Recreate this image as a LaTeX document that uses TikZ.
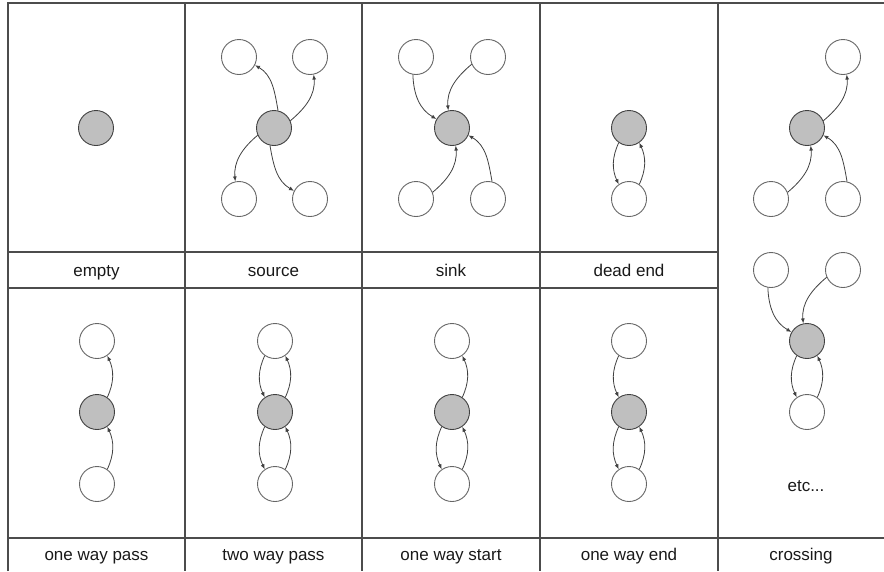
\documentclass[tikz,border=0pt]{standalone}
\usepackage{fontspec}
\setmainfont{Liberation Sans}
\usetikzlibrary{arrows.meta}
\begin{document}
\begin{tikzpicture}[x=1pt,y=1pt,
  gridline/.style={draw=black!70, line width=1.2pt},
  wnode/.style={circle, draw=black!60, fill=white, line width=0.9pt, minimum size=35pt, inner sep=0pt},
  gnode/.style={wnode, fill=black!25, draw=black!75},
  link/.style={draw=black!75, line width=0.8pt, -{Latex[length=5pt,width=4pt]}},
  lbl/.style={font=\fontsize{17}{20}\selectfont, text=black!90, inner sep=0pt, anchor=base}
]
\useasboundingbox (0,0) rectangle (884,-571);
% grid
\draw[gridline] (8,-571) -- (8,-3) -- (884,-3);
\foreach \xx in {185,362,540,718} \draw[gridline] (\xx,-3) -- (\xx,-571);
\draw[gridline] (8,-252) -- (718,-252);
\draw[gridline] (8,-288) -- (718,-288);
\draw[gridline] (8,-538) -- (884,-538);
% labels
\node[lbl] (l1) at (96.5,-276) {empty};
\node[lbl] (l2) at (273.5,-276) {source};
\node[lbl] (l3) at (451,-276) {sink};
\node[lbl] (l4) at (629,-276) {dead end};
\node[lbl] (l5) at (96.5,-560) {one way pass};
\node[lbl] (l6) at (273.5,-560) {two way pass};
\node[lbl] (l7) at (451,-560) {one way start};
\node[lbl] (l8) at (629,-560) {one way end};
\node[lbl] (l9) at (801,-560) {crossing};
\node[lbl] (l10) at (806,-491) {etc...};
% empty
\node[gnode] (eC) at (96,-128) {};
% source
\node[gnode] (sC) at (274,-128) {};
\node[wnode] (sTL) at (239,-57) {};
\node[wnode] (sTR) at (310,-57) {};
\node[wnode] (sBL) at (239,-199) {};
\node[wnode] (sBR) at (310,-199) {};
\draw[link] (sC.77) to[out=100,in=-30] (sTL.-27);
\draw[link] (sC.24) to[out=40,in=-85] (sTR.-78);
\draw[link] (sC.204) to[out=220,in=95] (sBL.102);
\draw[link] (sC.-103) to[out=-80,in=150] (sBR.153);
% sink
\node[gnode] (kC) at (452,-128) {};
\node[wnode] (kTL) at (416,-57) {};
\node[wnode] (kTR) at (488,-57) {};
\node[wnode] (kBL) at (416,-199) {};
\node[wnode] (kBR) at (488,-199) {};
\draw[link] (kTL.-100) to[out=-88,in=150] (kC.150);
\draw[link] (kTR.204) to[out=220,in=95] (kC.102);
\draw[link] (kBL.22) to[out=40,in=-85] (kC.-78);
\draw[link] (kBR.77) to[out=100,in=-30] (kC.-24);
% dead end
\node[gnode] (dG) at (629,-128) {};
\node[wnode] (dW) at (629,-199) {};
\draw[link] (dG.-125) to[out=-115,in=115] (dW.125);
\draw[link] (dW.55) to[out=65,in=-65] (dG.-55);
% crossing top
\node[gnode] (cG) at (807,-128) {};
\node[wnode] (cTR) at (843,-57) {};
\node[wnode] (cBL) at (771,-199) {};
\node[wnode] (cBR) at (843,-199) {};
\draw[link] (cG.24) to[out=40,in=-85] (cTR.-78);
\draw[link] (cBL.22) to[out=40,in=-85] (cG.-78);
\draw[link] (cBR.77) to[out=100,in=-30] (cG.-24);
% crossing bottom
\node[gnode] (xG) at (807,-341) {};
\node[wnode] (xTL) at (771,-270) {};
\node[wnode] (xTR) at (843,-270) {};
\node[wnode] (xW) at (807,-412) {};
\draw[link] (xTL.-100) to[out=-88,in=150] (xG.150);
\draw[link] (xTR.204) to[out=220,in=95] (xG.102);
\draw[link] (xG.-125) to[out=-115,in=115] (xW.125);
\draw[link] (xW.55) to[out=65,in=-65] (xG.-55);
% one way pass
\node[wnode] (aT) at (97,-341) {};
\node[gnode] (aM) at (97,-412) {};
\node[wnode] (aB) at (97,-484) {};
\draw[link] (aB.55) to[out=65,in=-65] (aM.-55);
\draw[link] (aM.55) to[out=65,in=-65] (aT.-55);
% two way pass
\node[wnode] (bT) at (275,-341) {};
\node[gnode] (bM) at (275,-412) {};
\node[wnode] (bB) at (275,-484) {};
\draw[link] (bB.55) to[out=65,in=-65] (bM.-55);
\draw[link] (bM.55) to[out=65,in=-65] (bT.-55);
\draw[link] (bT.-125) to[out=-115,in=115] (bM.125);
\draw[link] (bM.-125) to[out=-115,in=115] (bB.125);
% one way start
\node[wnode] (oT) at (452,-341) {};
\node[gnode] (oM) at (452,-412) {};
\node[wnode] (oB) at (452,-484) {};
\draw[link] (oM.55) to[out=65,in=-65] (oT.-55);
\draw[link] (oB.55) to[out=65,in=-65] (oM.-55);
\draw[link] (oM.-125) to[out=-115,in=115] (oB.125);
% one way end
\node[wnode] (nT) at (629,-341) {};
\node[gnode] (nM) at (629,-412) {};
\node[wnode] (nB) at (629,-484) {};
\draw[link] (nT.-125) to[out=-115,in=115] (nM.125);
\draw[link] (nB.55) to[out=65,in=-65] (nM.-55);
\draw[link] (nM.-125) to[out=-115,in=115] (nB.125);
\end{tikzpicture}
\end{document}
